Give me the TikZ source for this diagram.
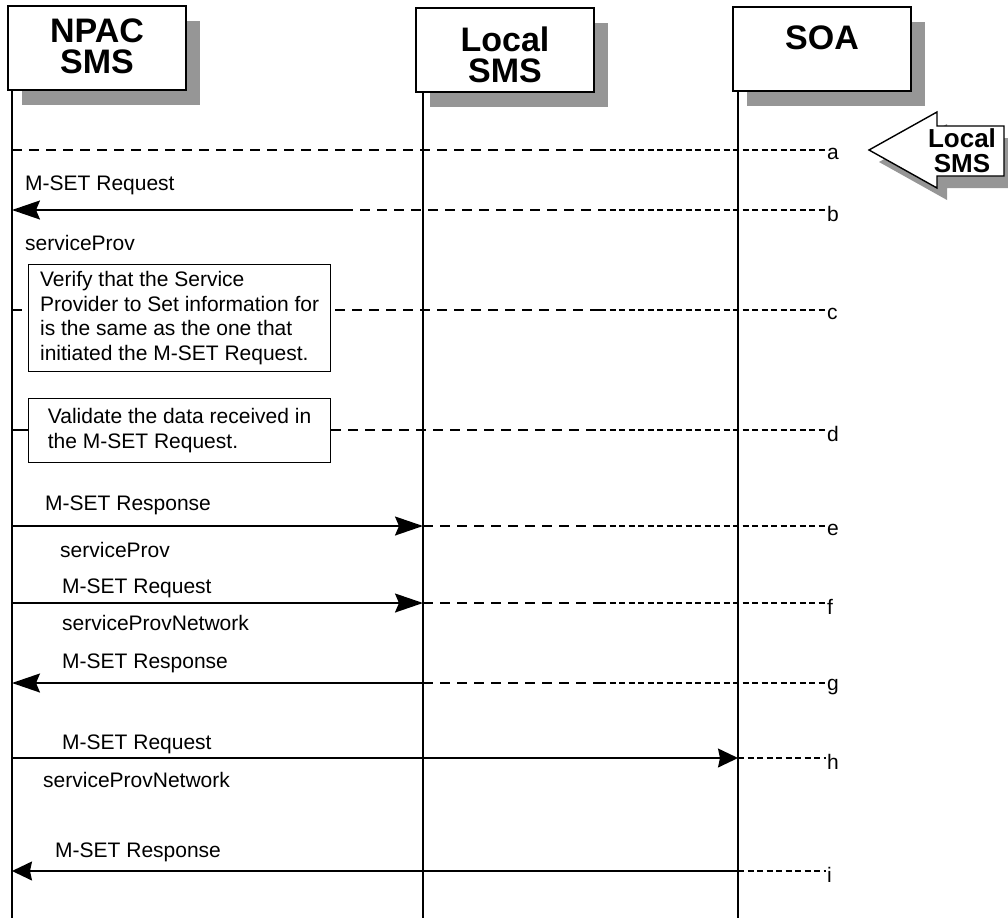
\documentclass[tikz,border=0pt]{standalone}
\usepackage{fontspec}
\setmainfont{Liberation Sans}
\usetikzlibrary{arrows.meta,shadows}
\definecolor{shadowgray}{RGB}{150,150,150}

\begin{document}
\begin{tikzpicture}[x=1pt,y=-1pt]
  \tikzstyle{headbox}=[draw, fill=white, line width=1.4pt, minimum width=178pt, minimum height=84pt,
    drop shadow={fill=shadowgray, opacity=1, shadow xshift=14pt, shadow yshift=-15pt}]
  \tikzstyle{headtext}=[font=\fontsize{34}{31}\selectfont\bfseries, align=center]
  \tikzstyle{note}=[draw, fill=white, line width=1.2pt, minimum width=302pt, align=left,
    font=\fontsize{21}{24.5}\selectfont]
  \tikzstyle{txt}=[anchor=west, inner sep=0pt, font=\fontsize{21}{24.5}\selectfont]
  \tikzstyle{rowtag}=[inner sep=1pt, yshift=-4pt, font=\fontsize{21}{24.5}\selectfont]
  \tikzstyle{msg}=[line width=1.8pt, -{Stealth[length=28pt,width=19pt,inset=4pt]}]
  \tikzstyle{thinmsg}=[line width=1.4pt, -{Stealth[length=20pt,width=19pt,inset=2pt]}]
  \tikzstyle{longdash}=[line width=1.4pt, dash pattern=on 10pt off 7pt]
  \tikzstyle{shortdash}=[line width=1.2pt, dash pattern=on 6pt off 3.5pt]

  \useasboundingbox (0,0) rectangle (1008,918);

  % header boxes
  \node[headbox, label={[headtext, yshift=2pt]center:NPAC\\SMS}] (npac) at (97,48) {};
  \node[headbox, label={[headtext, yshift=-5pt]center:Local\\SMS}] (lsms) at (505,50) {};
  \node[headbox, label={[headtext, yshift=11pt]center:SOA}] (soa) at (822,49) {};

  % lifelines
  \coordinate (nl) at (12,918);
  \coordinate (ll) at (423,918);
  \coordinate (sl) at (738,918);
  \coordinate (mid) at (600,0);
  \draw[line width=1.3pt] (nl |- npac.south) -- (nl);
  \draw[line width=1.3pt] (ll |- lsms.south) -- (ll);
  \draw[line width=1.3pt] (sl |- soa.south) -- (sl);

  % row tags on the right
  \coordinate[label={[rowtag]right:a}] (a) at (826,150);
  \coordinate[label={[rowtag]right:b}] (b) at (826,210);
  \coordinate[label={[rowtag]right:c}] (c) at (826,310);
  \coordinate[label={[rowtag]right:d}] (d) at (826,430);
  \coordinate[label={[rowtag]right:e}] (e) at (826,526);
  \coordinate[label={[rowtag]right:f}] (f) at (826,603);
  \coordinate[label={[rowtag]right:g}] (g) at (826,683);
  \coordinate[label={[rowtag]right:h}] (h) at (826,758);
  \coordinate[label={[rowtag]right:i}] (i) at (826,871);

  % a
  \draw[longdash] (a -| nl) -- (a -| mid);
  \draw[shortdash] (a -| mid) -- (a);

  % b
  \coordinate (bStart) at (343,210);
  \node[txt] (bReq) at (25,185) {M-SET Request};
  \node[txt] (bProv) at (25,243) {serviceProv};
  \draw[msg] (bStart) -- (b -| nl);
  \draw[longdash] (bStart) -- (b -| mid);
  \draw[shortdash] (b -| mid) -- (b);

  % c
  \draw[longdash] (c -| nl) -- (c -| mid);
  \draw[shortdash] (c -| mid) -- (c);
  \node[note, minimum height=107pt, anchor=north west] (verify) at (28,264)
    {Verify that the Service\\Provider to Set information for\\is the same as the one that\\initiated the M-SET Request.};

  % d
  \node[note, minimum height=64pt, anchor=north west] (validate) at (28,398)
    {Validate the data received in\\the M-SET Request.};
  \draw[line width=1.4pt] (d -| nl) -- (d -| validate.west);
  \draw[longdash] (d -| validate.east) -- (d -| mid);
  \draw[shortdash] (d -| mid) -- (d);

  % e
  \node[txt] (eResp) at (45,505) {M-SET Response};
  \node[txt] (eProv) at (60,550) {serviceProv};
  \draw[msg] (e -| nl) -- (e -| ll);
  \draw[longdash] (e -| ll) -- (e -| mid);
  \draw[shortdash] (e -| mid) -- (e);

  % f
  \node[txt] (fReq) at (62,588) {M-SET Request};
  \node[txt] (fNet) at (62,623) {serviceProvNetwork};
  \draw[msg] (f -| nl) -- (f -| ll);
  \draw[longdash] (f -| ll) -- (f -| mid);
  \draw[shortdash] (f -| mid) -- (f);

  % g
  \node[txt] (gResp) at (62,663) {M-SET Response};
  \draw[msg] (g -| ll) -- (g -| nl);
  \draw[longdash] (g -| ll) -- (g -| mid);
  \draw[shortdash] (g -| mid) -- (g);

  % h
  \node[txt] (hReq) at (62,744) {M-SET Request};
  \node[txt] (hNet) at (43,780) {serviceProvNetwork};
  \draw[thinmsg] (h -| nl) -- (h -| sl);
  \draw[shortdash] (h -| sl) -- (h);

  % i
  \node[txt] (iResp) at (55,852) {M-SET Response};
  \draw[thinmsg] (i -| sl) -- (i -| nl);
  \draw[shortdash] (i -| sl) -- (i);

  % Local SMS pointer
  \draw[fill=white, line width=1.4pt,
    drop shadow={fill=shadowgray, opacity=1, shadow xshift=10pt, shadow yshift=-12pt}]
    (869,150) -- (937,112) -- (937,126) -- (1004,126) -- (1004,176) -- (937,176) -- (937,188) -- cycle;
  \node[font=\fontsize{26}{25}\selectfont\bfseries, align=center] (src) at (962,151) {Local\\SMS};
\end{tikzpicture}
\end{document}
